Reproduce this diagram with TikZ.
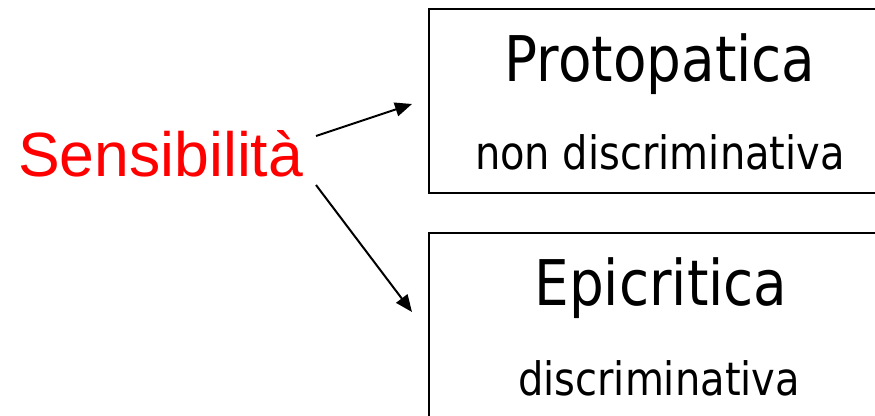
\documentclass[tikz,border=0pt]{standalone}
\usepackage{fontspec}
\setmainfont{Liberation Sans}
\newfontfamily\boxfont[FakeStretch=0.87]{DejaVu Sans}
\usetikzlibrary{arrows.meta}
\definecolor{sensred}{RGB}{255,0,0}
\tikzset{
  x=1pt, y=1pt,
  framebox/.style={draw=black, line width=1.8pt, minimum width=464pt,
    minimum height=184pt, anchor=north west, inner sep=0pt},
  titletext/.style={anchor=base, inner sep=0pt, font=\boxfont\fontsize{63}{70}\selectfont},
  subtext/.style={anchor=base, inner sep=0pt, font=\boxfont\fontsize{46}{52}\selectfont},
  rootText/.style={anchor=base west, inner sep=0pt, text=sensred,
    font=\fontsize{62.5}{70}\selectfont},
  link/.style={draw=black, line width=2pt,
    -{Triangle[length=17pt, width=14pt]}}
}
\begin{document}
\begin{tikzpicture}
  \useasboundingbox (0,0) rectangle (875,-415);
  \clip (0,0) rectangle (875,-415);

  % root label
  \node[rootText] (sens) at (18,-176) {Sensibilità};

  % the two categories
  \node[framebox] (proto) at (428,-8) {};
  \node[titletext] (protoT) at (660,-81) {Protopatica};
  \node[subtext] (protoS) at (660,-169) {non discriminativa};

  \node[framebox] (epi) at (428,-232) {};
  \node[titletext] (epiT) at (661,-305) {Epicritica};
  \node[subtext] (epiS) at (659,-395) {discriminativa};

  % arrow end points
  \coordinate (s1) at (316,-136);
  \coordinate (e1) at (412,-104);
  \coordinate (s2) at (316,-185);
  \coordinate (e2) at (412,-312);

  \draw[link] (s1) -- (e1);
  \draw[link] (s2) -- (e2);
\end{tikzpicture}
\end{document}
